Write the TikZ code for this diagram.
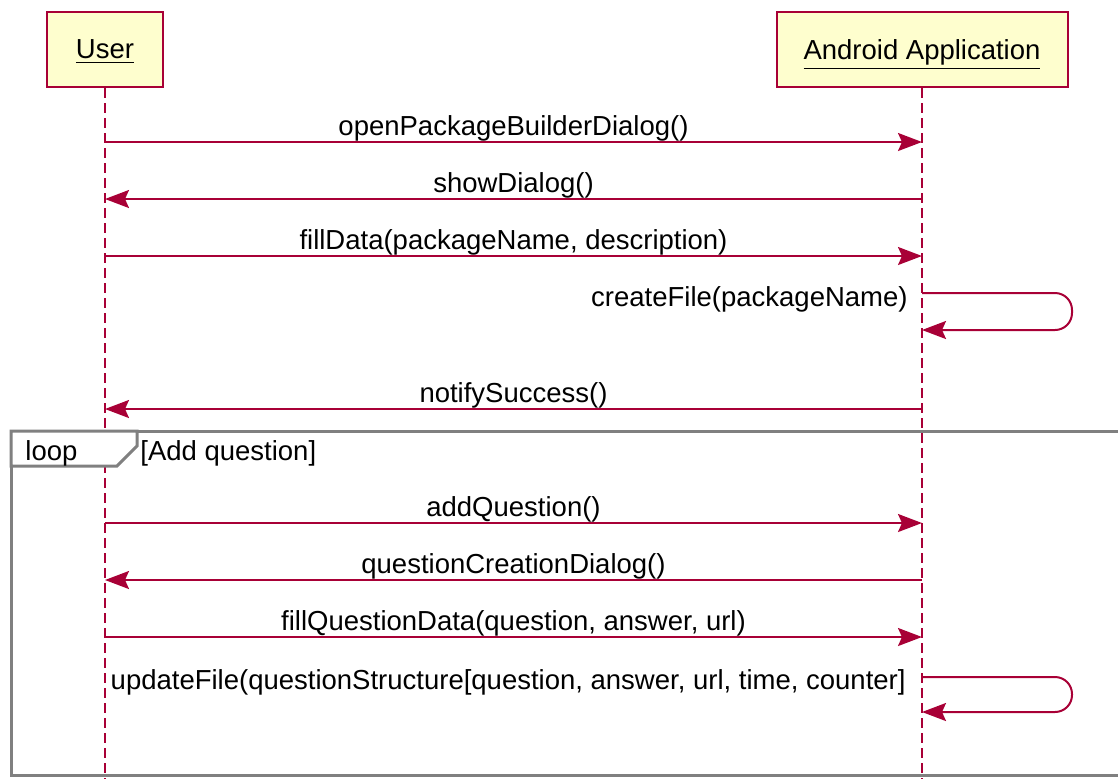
\documentclass[tikz,border=0pt]{standalone}
\usepackage{fontspec}
\setmainfont{Liberation Sans}
\usetikzlibrary{arrows.meta}
\definecolor{umlred}{HTML}{A80036}
\definecolor{umlfill}{HTML}{FEFECE}
\definecolor{umlframe}{HTML}{808080}

\begin{document}
\begin{tikzpicture}[x=0.5pt,y=-0.5pt,
  every node/.style={font=\fontsize{13.75}{16}\selectfont,text=black},
  actorbox/.style={draw=umlred,fill=umlfill,line width=1pt,minimum height=37.5pt,inner sep=0pt,text depth=0pt},
  lifeline/.style={umlred,line width=0.8pt,dash pattern=on 5pt off 2.5pt},
  msg/.style={umlred,line width=1pt,-{Stealth[length=12pt,width=9pt,inset=2pt]}},
  msglabel/.style={inner sep=0pt,anchor=base,yshift=3.5pt},
  framebox/.style={umlframe,line width=1.5pt}]
  \clip (0,0) rectangle (1118,778);
  % participants
  \node[actorbox,minimum width=58pt]    (user) at (105,49.5) {\underline{User}};
  \node[actorbox,minimum width=145.5pt] (app)  at (922,49.5) {\underline{Android Application}};
  \coordinate (userEnd) at (105,800);
  \coordinate (appEnd)  at (922,800);
  \draw[lifeline] (user.south) -- (userEnd);
  \draw[lifeline] (app.south) -- (appEnd);
  % points on the lifelines
  \foreach \n/\my in {1/142,2/199,3/256,4/293,5/409,6/523,7/580,8/637,9/677} {
    \coordinate (u\n) at (105,\my);
    \coordinate (a\n) at (922,\my);}
  % loop frame
  \draw[framebox] (11,431) rectangle (1140,775);
  \draw[framebox,fill=white] (11,431) -- (137,431) -- (137,446) -- (117,466) -- (11,466) -- cycle;
  \node[inner sep=0pt,anchor=base west] (looptag)  at (25,460)  {loop};
  \node[inner sep=0pt,anchor=base west] (loopcond) at (140,460) {[Add question]};
  % messages
  \draw[msg] (u1) -- node[msglabel] (m1) {openPackageBuilderDialog()} (a1);
  \draw[msg] (a2) -- node[msglabel] (m2) {showDialog()} (u2);
  \draw[msg] (u3) -- node[msglabel] (m3) {fillData(packageName, description)} (a3);
  \draw[msg,rounded corners=8.5pt] (a4) -- ++(150,0) -- ++(0,37) -- ++(-150,0);
    \node[inner sep=0pt,anchor=base east] (m4) at (908,306) {createFile(packageName)};
  \draw[msg] (a5) -- node[msglabel] (m5) {notifySuccess()} (u5);
  \draw[msg] (u6) -- node[msglabel] (m6) {addQuestion()} (a6);
  \draw[msg] (a7) -- node[msglabel] (m7) {questionCreationDialog()} (u7);
  \draw[msg] (u8) -- node[msglabel] (m8) {fillQuestionData(question, answer, url)} (a8);
  \draw[msg,rounded corners=8.5pt] (a9) -- ++(150,0) -- ++(0,35) -- ++(-150,0);
    \node[inner sep=0pt,anchor=base east] (m9) at (906,689) {updateFile(questionStructure[question, answer, url, time, counter]};
\end{tikzpicture}
\end{document}
